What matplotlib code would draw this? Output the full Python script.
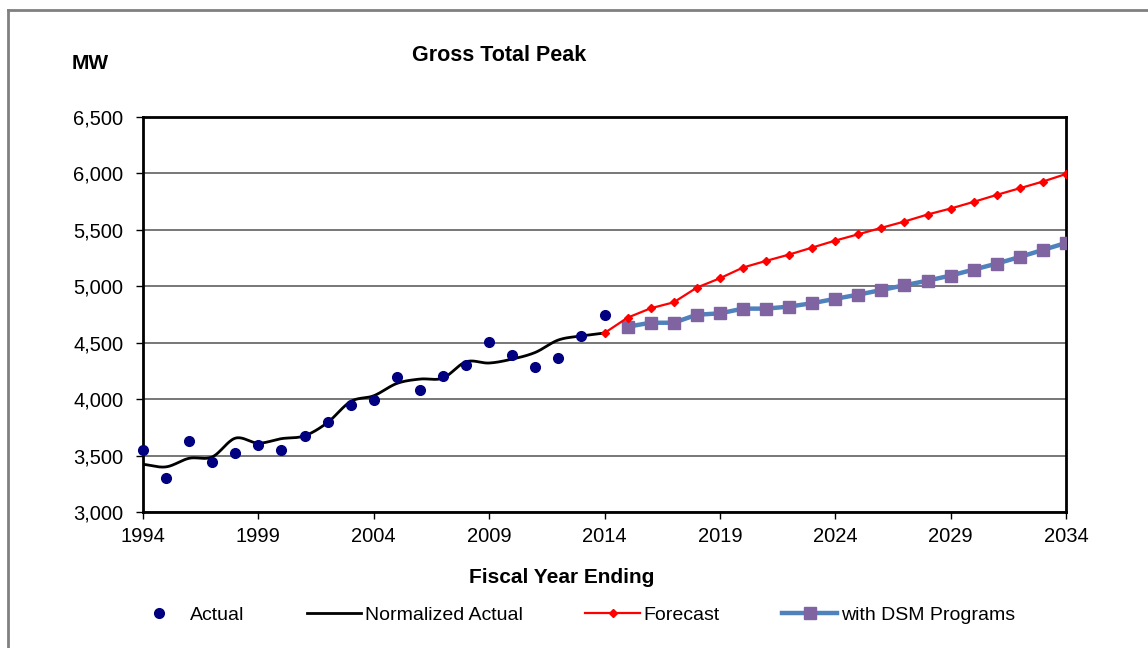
import numpy as np
import matplotlib
matplotlib.use("Agg")
import matplotlib.pyplot as plt
from matplotlib.lines import Line2D
from matplotlib.ticker import FuncFormatter, MultipleLocator

plt.rcParams['font.family'] = ['Liberation Sans', 'DejaVu Sans']

# peak demand, MW
actual_years = list(range(1994, 2015))
actual = [3545, 3300, 3625, 3445, 3525, 3595, 3550, 3670, 3795, 3945,
          3995, 4195, 4085, 4205, 4300, 4505, 4395, 4285, 4365, 4560, 4745]
normalized = [3423, 3400, 3476, 3488, 3654, 3610, 3650, 3675, 3793, 3979,
              4030, 4139, 4178, 4187, 4331, 4320, 4355, 4414, 4524, 4560, 4586]

forecast_years = list(range(2014, 2035))
forecast = [4586, 4722, 4805, 4858, 4988, 5071, 5166, 5225, 5281, 5343,
            5405, 5461, 5518, 5574, 5636, 5689, 5748, 5810, 5869, 5928, 5995]

dsm_years = list(range(2015, 2035))
dsm = [4642, 4677, 4677, 4748, 4760, 4802, 4802, 4820, 4850, 4889,
       4926, 4967, 5009, 5050, 5095, 5148, 5201, 5260, 5322, 5384]


def smooth(x, y, n=20):
    # Catmull-Rom curve through the yearly points, like a smoothed line in a spreadsheet
    x = np.asarray(x, float)
    y = np.asarray(y, float)
    px = np.concatenate([[2 * x[0] - x[1]], x, [2 * x[-1] - x[-2]]])
    py = np.concatenate([[2 * y[0] - y[1]], y, [2 * y[-1] - y[-2]]])
    xs, ys = [], []
    t = np.linspace(0, 1, n, endpoint=False)
    for i in range(1, len(px) - 2):
        for p, out in ((px, xs), (py, ys)):
            p0, p1, p2, p3 = p[i - 1], p[i], p[i + 1], p[i + 2]
            out.extend(0.5 * (2 * p1 + (-p0 + p2) * t
                              + (2 * p0 - 5 * p1 + 4 * p2 - p3) * t ** 2
                              + (-p0 + 3 * p1 - 3 * p2 + p3) * t ** 3))
    xs.append(x[-1])
    ys.append(y[-1])
    return xs, ys


fig = plt.figure(figsize=(11.48, 6.48), dpi=100)
ax = fig.add_axes([0.12457, 0.20988, 0.80401, 0.60957])

nx, ny = smooth(actual_years, normalized)
ax.plot(nx, ny, color='black', lw=2, zorder=3)
ax.plot(dsm_years, dsm, color='#4F81BD', lw=3.2, marker='s', ms=8,
        mfc='#8064A2', mec='#8064A2', zorder=4)
ax.plot(forecast_years, forecast, color='#FF0000', lw=1.6, marker='D', ms=4.5,
        mfc='#FF0000', mec='#FF0000', zorder=5)
ax.plot(actual_years, actual, ls='none', marker='o', ms=7,
        color='#000080', zorder=6, clip_on=False)

ax.set_xlim(1994, 2034)
ax.set_ylim(3000, 6500)
ax.set_xticks(range(1994, 2035, 5))
ax.yaxis.set_major_locator(MultipleLocator(500))
ax.yaxis.set_major_formatter(FuncFormatter(lambda v, p: f'{int(v):,}'))
ax.grid(axis='y', color='#606060', lw=1.2)
ax.set_axisbelow(True)
for s in ax.spines.values():
    s.set_linewidth(2)
    s.set_color('black')
ax.tick_params(direction='out', length=5, width=1, labelsize=14.5)
ax.tick_params(axis='y', pad=9)
ax.tick_params(axis='x', pad=6)

fig.text(0.4347, 0.915, 'Gross Total Peak', ha='center', va='center',
         fontsize=15.5, fontweight='bold')
fig.text(0.0785, 0.902, 'MW', ha='center', va='center',
         fontsize=15, fontweight='bold')
fig.text(0.4895, 0.109, 'Fiscal Year Ending', ha='center', va='center',
         fontsize=15, fontweight='bold')

handles = [
    Line2D([], [], ls='none', marker='o', ms=7, color='#000080'),
    Line2D([], [], color='black', lw=2),
    Line2D([], [], color='#FF0000', lw=1.6, marker='D', ms=4.5),
    Line2D([], [], color='#4F81BD', lw=3.2, marker='s', ms=8,
           mfc='#8064A2', mec='#8064A2'),
]
labels = ['Actual', 'Normalized Actual', 'Forecast', 'with DSM Programs']
fig.legend(handles, labels, loc='center', bbox_to_anchor=(0.4995, 0.051),
           ncol=4, frameon=False, fontsize=14, handlelength=2.8,
           handletextpad=0.2, columnspacing=3.2, numpoints=1)

# outer chart border
fig.add_artist(Line2D([8 / 1148, 8 / 1148], [0, 1 - 10 / 648],
                      transform=fig.transFigure, color='#808080', lw=2))
fig.add_artist(Line2D([8 / 1148, 1], [1 - 10 / 648, 1 - 10 / 648],
                      transform=fig.transFigure, color='#808080', lw=2))

fig.savefig('out.png', dpi=100)
